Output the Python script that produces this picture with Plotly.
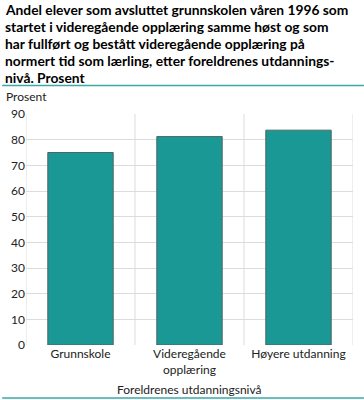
import plotly.graph_objects as go

categories = ["Grunnskole", "Videregående<br>opplæring", "Høyere utdanning"]
values = [75.0, 81.2, 83.7]
y_ticks = [0, 10, 20, 30, 40, 50, 60, 70, 80, 90]

title_lines = [
    "Andel elever som avsluttet grunnskolen våren 1996 som",
    "startet i videregående opplæring samme høst og som",
    "har fullført og bestått videregående opplæring på",
    "normert tid som lærling, etter foreldrenes utdannings-",
    "nivå. Prosent",
]

W, H = 364, 400
L, R, T, B = 24, 11, 114, 55
pw, ph = W - L - R, H - T - B

def px(x):
    return (x - L) / pw

def py(y):
    return (H - B - y) / ph

FONT = "Lato"
TFONT = "Lato"
TEAL = "#1a9896"

fig = go.Figure()
xs = list(range(len(categories)))
fig.add_trace(go.Bar(
    x=xs, y=values, width=0.6,
    marker=dict(color=TEAL, line=dict(color="#4f6464", width=1)),
    hoverinfo="skip",
))

shapes = []
for xb in [-0.5, 0.5, 1.5, 2.5]:
    shapes.append(dict(type="line", xref="x", yref="paper", x0=xb, x1=xb, y0=0, y1=1,
                       line=dict(color="#dcdcdc", width=1), layer="below"))
shapes.append(dict(type="line", xref="paper", yref="paper", x0=px(0), x1=px(W),
                   y0=py(85.5), y1=py(85.5), line=dict(color="#3aa9a9", width=1.5)))
shapes.append(dict(type="line", xref="paper", yref="paper", x0=px(0), x1=px(W),
                   y0=py(398), y1=py(398), line=dict(color="#3aa9a9", width=1.5)))

annotations = []
for i, line in enumerate(title_lines):
    annotations.append(dict(text=line, xref="paper", yref="paper", x=px(1), y=py(10 + 16.8 * i),
                            xanchor="left", yanchor="middle", align="left", showarrow=False,
                            font=dict(family=TFONT, size=13.8, color="#000000", weight="bold")))
annotations += [
    dict(text="Prosent", xref="paper", yref="paper", x=px(2), y=py(97),
         xanchor="left", yanchor="middle", showarrow=False,
         font=dict(family=FONT, size=12, color="#222222")),
    dict(text="Foreldrenes utdanningsnivå", xref="paper", yref="paper", x=0.5, y=py(389),
         xanchor="center", yanchor="middle", showarrow=False,
         font=dict(family=FONT, size=12, color="#222222")),
]

fig.update_layout(
    width=W, height=H,
    margin=dict(l=L, r=R, t=T, b=B),
    paper_bgcolor="white", plot_bgcolor="white",
    showlegend=False,
    font=dict(family=FONT, size=12, color="#222222"),
    shapes=shapes, annotations=annotations,
    xaxis=dict(tickvals=xs, ticktext=categories, range=[-0.5, 2.5],
               showgrid=False, zeroline=False, showline=False, ticks="",
               tickfont=dict(size=12, color="#222222")),
    yaxis=dict(range=[0, 90], tickvals=y_ticks, showgrid=True, gridcolor="#dcdcdc",
               gridwidth=1, zeroline=False, showline=False, ticks="",
               tickfont=dict(size=12, color="#222222")),
)

fig.write_html("out.html", config={"displayModeBar": False},
               post_script="document.body.style.margin='0';document.body.style.overflow='hidden';")
